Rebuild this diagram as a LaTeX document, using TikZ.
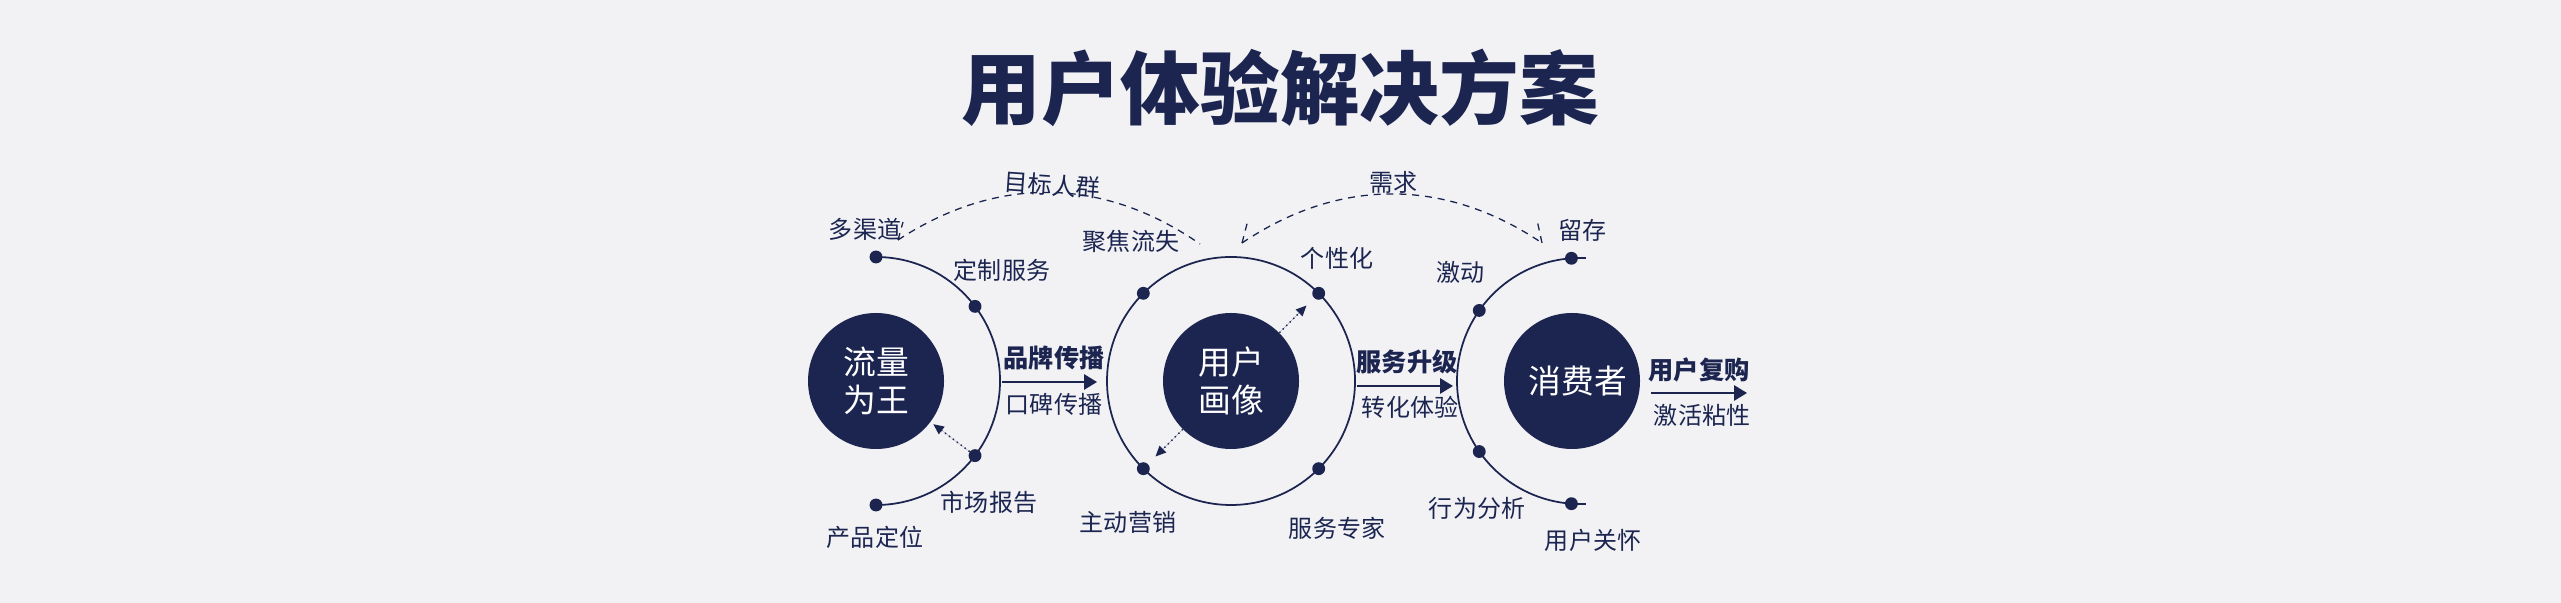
\documentclass[tikz,border=0pt]{standalone}
\usepackage{fontspec}
\setmainfont{Noto Sans CJK SC}
\usetikzlibrary{arrows.meta}
\definecolor{navy}{HTML}{1B2550}
\definecolor{paper}{HTML}{F2F2F5}

\begin{document}
\begin{tikzpicture}[x=0.3mm, y=0.3mm,
    ball/.style={circle, fill=navy, minimum size=40.8mm, inner sep=0pt, text=white, align=center, font=\fontsize{28}{32.5}\selectfont},
    pin/.style={circle, fill=navy, minimum size=11pt, inner sep=0pt},
    lbl/.style={text=navy, inner sep=0pt, font=\fontsize{20.5}{24}\selectfont},
    blbl/.style={text=navy, inner sep=0pt, font=\fontsize{21.5}{24}\selectfont\bfseries},
    ring/.style={draw=navy, line width=1.5pt},
    flow/.style={draw=navy, line width=1.6pt, -{Triangle[length=11pt, width=13pt]}},
    hint/.style={draw=navy, fill=navy, line width=1.2pt, dash pattern=on 1.2pt off 3pt, -{Triangle[length=9pt, width=8pt]}},
    dashline/.style={draw=navy, line width=1.1pt, dash pattern=on 6pt off 5pt}]
            \path[use as bounding box, fill=paper] (0,0) rectangle (2561,603);

            \node[text=navy, font=\fontsize{68}{70}\selectfont\bfseries] (title) at (1280,515) {用户体验解决方案};

            \node[ball] (liu) at (876,222) {流量\\为王};
            \node[ball] (hua) at (1231,222) {用户\\画像};
            \node[ball] (xiao) at (1572,222) {\hspace{10pt}消费者};
            \coordinate (xc) at (1580,222);

            \draw[ring] ([shift={(90:37.2mm)}]liu.center) arc[start angle=90, end angle=-90, radius=37.2mm];
            \draw[ring] (hua.center) circle[radius=37.2mm];
            \draw[ring] ([shift={(94:36.9mm)}]xc) arc[start angle=94, end angle=266, radius=36.9mm];

            \foreach \a/\n in {90/l1, 37/l2, -37/l3, -90/l4}
                \node[pin] (\n) at ([shift={(\a:37.2mm)}]liu.center) {};
            \foreach \a/\n in {45/m1, 135/m2, 225/m3, 315/m4}
                \node[pin] (\n) at ([shift={(\a:37.2mm)}]hua.center) {};
            \foreach \a/\n in {94/r1, 145/r2, 215/r3, 266/r4}
                \node[pin] (\n) at ([shift={(\a:36.9mm)}]xc) {};
            \draw[ring] (r1.center) -- ++(15,0);
            \draw[ring] (r4.center) -- ++(15,0);

            \draw[hint, shorten >=3pt] (l3) -- (liu.-37);
            \draw[hint, shorten >=9pt] (hua.45) -- (m1);
            \draw[hint, shorten >=9pt] (hua.225) -- (m3);

            \coordinate (p1) at (1002,221);
            \coordinate (q1) at (1097,221);
            \coordinate (p2) at (1357,217);
            \coordinate (q2) at (1453,217);
            \coordinate (p3) at (1651,210);
            \coordinate (q3) at (1747,210);
            \draw[flow] (p1) -- (q1);
            \draw[flow] (p2) -- (q2);
            \draw[flow] (p3) -- (q3);

            \coordinate (g1) at (898,363);
            \coordinate (g2) at (1200,359);
            \coordinate (h1) at (1242,360);
            \coordinate (h2) at (1542,360);
            \draw[dashline] (g1) to[bend left=34] (g2);
            \draw[dashline] (g1) -- ++(5,18);
            \draw[dashline] (h1) to[bend left=34] (h2);
            \draw[dashline] (h1) -- ++(6,23);
            \draw[dashline] (h2) -- ++(-5,23);

            \node[lbl, rotate=-4] (qun) at (1052,418) {目标人群};
            \node[lbl] (xq) at (1393,421) {需求};
            \node[lbl] (qd) at (865,374) {多渠道};
            \node[lbl] (jj) at (1131,362) {聚焦流失};
            \node[lbl] (dz) at (1002,333) {定制服务};
            \node[lbl] (sc) at (989,101) {市场报告};
            \node[lbl] (cp) at (875,66) {产品定位};
            \node[lbl] (zd) at (1128,81) {主动营销};
            \node[lbl] (gx) at (1337,345) {个性化};
            \node[lbl] (zj) at (1337,75) {服务专家};
            \node[lbl] (lc) at (1582,373) {留存};
            \node[lbl] (jd) at (1460,331) {激动};
            \node[lbl] (xw) at (1477,95) {行为分析};
            \node[lbl] (gh) at (1593,63) {用户关怀};

            \node[blbl] (pp) at (1054,245) {品牌传播};
            \node[lbl] (kb) at (1054,199) {口碑传播};
            \node[blbl] (sj) at (1407,241) {服务升级};
            \node[lbl] (zh) at (1410,196) {转化体验};
            \node[blbl] (fg) at (1699,233) {用户复购};
            \node[lbl] (jh) at (1702,188) {激活粘性};
        \end{tikzpicture}
\end{document}
